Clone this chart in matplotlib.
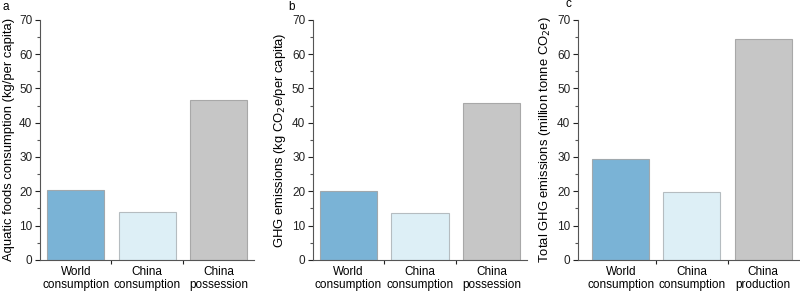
import numpy as np
import matplotlib.pyplot as plt

plt.rcParams['font.family'] = ['Liberation Sans', 'DejaVu Sans']
plt.rcParams['font.size'] = 8.5

labels_ab = ['World\nconsumption', 'China\nconsumption', 'China\npossession']
labels_c = ['World\nconsumption', 'China\nconsumption', 'China\nproduction']
vals_a = [20.5, 14.0, 46.5]
vals_b = [20.2, 13.7, 45.7]
vals_c = [29.3, 19.8, 64.5]
colors = ['#7ab3d6', '#ddeff6', '#c6c6c6']
edges = ['#a0a8ad', '#b5bcc0', '#a8a8a8']

fig = plt.figure(figsize=(8, 2.91), dpi=100)

panels = [
    ([0.050, 0.107, 0.268, 0.825], vals_a, labels_ab, 'Aquatic foods consumption (kg/per capita)', 'a', -0.5, (0.003, 0.975)),
    ([0.391, 0.107, 0.268, 0.825], vals_b, labels_ab, 'GHG emissions (kg CO$_2$e/per capita)', 'b', -0.5, (0.36, 0.975)),
    ([0.7225, 0.107, 0.276, 0.825], vals_c, labels_c, 'Total GHG emissions (million tonne CO$_2$e)', 'c', -0.6, (0.707, 0.985)),
]

for rect, vals, labels, ylab, letter, x0, lpos in panels:
    ax = fig.add_axes(rect)
    x = np.arange(len(vals))
    ax.bar(x, vals, width=0.8, color=colors, edgecolor=edges, linewidth=0.8)
    ax.set_xlim(x0, 2.5)
    ax.set_ylim(0, 70)
    ax.set_yticks(np.arange(0, 71, 10))
    ax.set_yticks(np.arange(5, 70, 10), minor=True)
    ax.set_xticks([0.5, 1.5])
    ax.set_xticklabels([])
    ax.set_xticks(x, minor=True)
    ax.set_xticklabels(labels, minor=True, linespacing=1.15)
    ax.tick_params(axis='x', which='minor', length=0, pad=4.5)
    ax.tick_params(axis='x', which='major', length=3, width=0.8, color='#555555')
    ax.tick_params(axis='y', which='major', length=3.5, width=0.8, color='#555555', pad=2)
    ax.tick_params(axis='y', which='minor', length=2, width=0.8, color='#555555')
    ax.tick_params(labelsize=8.5, colors='#222222')
    for s in ['top', 'right']:
        ax.spines[s].set_visible(False)
    for s in ['left', 'bottom']:
        ax.spines[s].set_color('#555555')
        ax.spines[s].set_linewidth(0.8)
    ax.set_ylabel(ylab, fontsize=9.4, labelpad=3)
    fig.text(lpos[0], lpos[1], letter, fontsize=8.5, va='center')

plt.savefig('out.png', dpi=100)
